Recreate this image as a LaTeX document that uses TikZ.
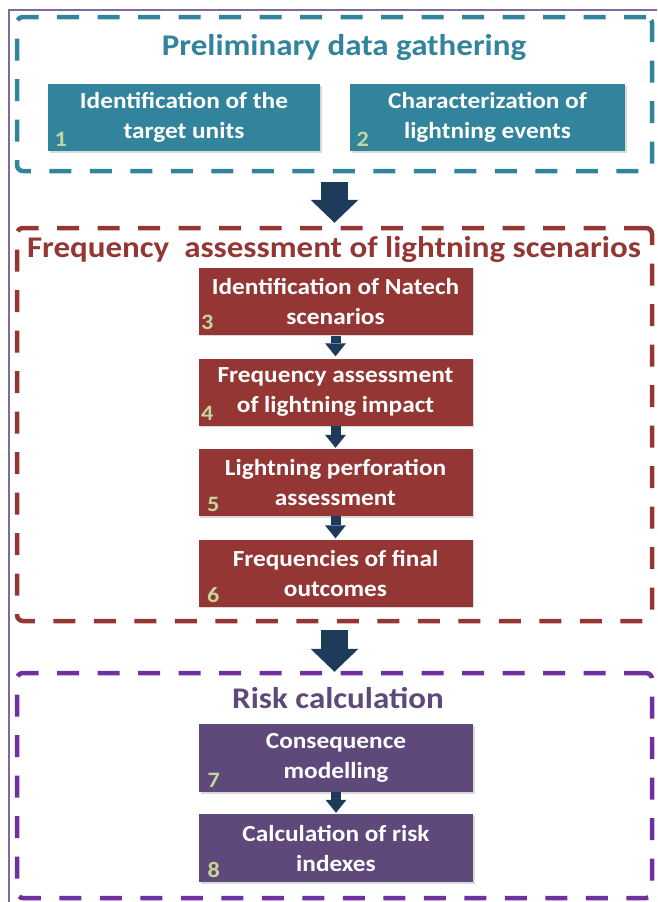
\documentclass[tikz,border=0pt]{standalone}
\usepackage{fontspec}
\setmainfont{Carlito}[FakeStretch=1.1]
\usetikzlibrary{arrows.meta,shadows,calc}
\definecolor{tealc}{HTML}{31849B}
\definecolor{redc}{HTML}{943634}
\definecolor{purpc}{HTML}{5F497A}
\definecolor{purpdash}{HTML}{7030A0}
\definecolor{navy}{HTML}{1F3B5C}
\definecolor{numc}{HTML}{C3D69B}
\definecolor{framec}{HTML}{7F6A9C}
\begin{document}
\begin{tikzpicture}[x=1pt,y=-1pt,
  group/.style={draw, line width=4.5pt, dash pattern=on 22pt off 18.5pt, rounded corners=6pt, minimum width=635pt, inner sep=0pt},
  stepbox/.style={minimum width=274pt, minimum height=67pt, inner sep=0pt, align=center, text=white,
    font=\fontsize{23}{30}\selectfont\bfseries,
    drop shadow={shadow xshift=1.5pt, shadow yshift=-1.5pt, opacity=0.3}},
  title/.style={anchor=base, font=\fontsize{30}{36}\selectfont\bfseries},
  num/.style={text=numc, inner sep=0pt, font=\fontsize{22}{24}\selectfont\bfseries},
  bigarrow/.style={navy, line width=27pt, -{Triangle[width=48pt,length=23pt,line width=0pt]}},
  smallarrow/.style={navy, line width=10pt, -{Triangle[width=21pt,length=13pt,line width=0pt]}}
]
\useasboundingbox (0,0) rectangle (657,902);
\draw[framec, line width=2pt] (9,902) -- (9,10) -- (657,10);

% groups
\node[group, tealc, minimum height=154pt] (g1) at (334.5,94) {};
\node[group, redc, minimum height=393pt] (g2) at (334.5,424.5) {};
\node[group, purpdash, minimum height=225pt] (g3) at (334.5,785.5) {};

% titles
\node[title, text=tealc] (t1) at (344,55) {Preliminary data gathering};
\node[title, text=redc] (t2) at (334,257) {Frequency\ \ assessment of lightning scenarios};
\node[title, text=purpc] (t3) at (338,708) {Risk calculation};

% boxes
\node[stepbox, fill=tealc, minimum width=272pt] (b1) at (184,117.5) {Identification of the\\target units};
\node[stepbox, fill=tealc, minimum width=275pt] (b2) at (487.5,117.5) {Characterization of\\lightning events};
\node[stepbox, fill=redc] (b3) at (335.5,301) {Identification of Natech\\scenarios};
\node[stepbox, fill=redc] (b4) at (335.5,392) {Frequency assessment\\of lightning impact};
\node[stepbox, fill=redc] (b5) at (335.5,482.5) {Lightning perforation\\assessment};
\node[stepbox, fill=redc] (b6) at (335.5,573) {Frequencies of final\\outcomes};
\node[stepbox, fill=purpc, minimum height=68pt] (b7) at (336,758) {Consequence\\modelling};
\node[stepbox, fill=purpc, minimum height=68pt] (b8) at (336,848) {Calculation of risk\\indexes};

% numbers
\node[num] (n1) at ($(b1.south west)+(13,-12)$) {1};
\node[num] (n2) at ($(b2.south west)+(13,-12)$) {2};
\node[num] (n3) at ($(b3.south west)+(9,-12)$) {3};
\node[num] (n4) at ($(b4.south west)+(9,-12)$) {4};
\node[num] (n5) at ($(b5.south west)+(15,-12)$) {5};
\node[num] (n6) at ($(b6.south west)+(15,-12)$) {6};
\node[num] (n7) at ($(b7.south west)+(15,-12)$) {7};
\node[num] (n8) at ($(b8.south west)+(15,-12)$) {8};

% arrows
\draw[bigarrow, shorten <=9pt, shorten >=3pt] (g1.south) -- (g2.north);
\draw[bigarrow, shorten <=7pt, shorten >=-1pt] (g2.south) -- (g3.north);
\draw[smallarrow, shorten <=1pt, shorten >=2pt] (b3.south) -- (b4.north);
\draw[smallarrow, shorten <=0pt, shorten >=1pt] (b4.south) -- (b5.north);
\draw[smallarrow, shorten <=0pt, shorten >=1pt] (b5.south) -- (b6.north);
\draw[smallarrow, shorten <=0pt, shorten >=1pt] (b7.south) -- (b8.north);
\end{tikzpicture}
\end{document}
